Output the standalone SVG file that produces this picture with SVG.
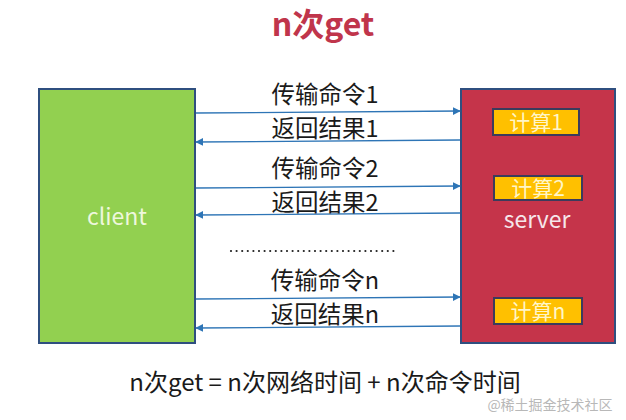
<svg xmlns="http://www.w3.org/2000/svg" width="626" height="420" viewBox="0 0 626 420">
<style>
  .cjk { font-family: "Noto Sans CJK SC", "Liberation Sans", sans-serif; }
  .lbl { font-size: 23.5px; fill: #1a1a1a; text-anchor: middle; }
  .node { stroke: #2f4f7f; stroke-width: 2; }
  .calc { fill: #ffc000; stroke: #3b3b5c; stroke-width: 2; }
  .calct { font-size: 21px; fill: #fff6c8; text-anchor: middle; }
  .arrow { stroke: #2e75b6; stroke-width: 1.3; fill: none; }
</style>
<defs>
  <marker id="ah" viewBox="0 0 10 10" refX="9" refY="5" markerWidth="8" markerHeight="8" orient="auto" markerUnits="userSpaceOnUse">
    <path d="M0,0 L10,5 L0,10 z" fill="#2e75b6"/>
  </marker>
</defs>
<rect width="626" height="420" fill="#ffffff"/>
<text x="323" y="36" class="cjk" font-size="32" font-weight="bold" fill="#c0354b" text-anchor="middle">n次get</text>

<g id="client">
  <rect x="39" y="89" width="156" height="254" fill="#92d050" class="node"/>
  <text x="117" y="225" class="cjk" font-size="23" fill="#eef7dc" text-anchor="middle">client</text>
</g>

<g id="server">
  <rect x="461" y="89" width="154" height="254" fill="#c5344a" class="node"/>
  <text x="537" y="228" class="cjk" font-size="23" fill="#f6e6ea" text-anchor="middle">server</text>
</g>
<g id="calc1">
  <rect x="493" y="109" width="86" height="26" class="calc"/>
  <text x="536" y="130" class="cjk calct">计算1</text>
</g>
<g id="calc2">
  <rect x="494" y="176" width="88" height="24" class="calc"/>
  <text x="538" y="196" class="cjk calct">计算2</text>
</g>
<g id="calcn">
  <rect x="494" y="298" width="88" height="26" class="calc"/>
  <text x="538" y="319" class="cjk calct">计算n</text>
</g>

<g id="connectors">
  <line x1="196" y1="113" x2="460" y2="111" class="arrow" marker-end="url(#ah)"/>
  <line x1="460" y1="140" x2="196" y2="142" class="arrow" marker-end="url(#ah)"/>
  <line x1="196" y1="188" x2="460" y2="186" class="arrow" marker-end="url(#ah)"/>
  <line x1="460" y1="213" x2="196" y2="215" class="arrow" marker-end="url(#ah)"/>
  <line x1="196" y1="299" x2="460" y2="297" class="arrow" marker-end="url(#ah)"/>
  <line x1="460" y1="326" x2="196" y2="328" class="arrow" marker-end="url(#ah)"/>
  <line x1="231" y1="251" x2="398" y2="251" stroke="#222" stroke-width="2.2" stroke-linecap="round" stroke-dasharray="0 5.6"/>
</g>

<text x="325" y="103" class="cjk lbl">传输命令1</text>
<text x="325" y="137" class="cjk lbl">返回结果1</text>
<text x="325" y="177" class="cjk lbl">传输命令2</text>
<text x="325" y="211" class="cjk lbl">返回结果2</text>
<text x="325" y="289" class="cjk lbl">传输命令n</text>
<text x="325" y="323" class="cjk lbl">返回结果n</text>

<text x="325" y="391" class="cjk" font-size="24" fill="#1a1a1a" text-anchor="middle">n次get = n次网络时间 + n次命令时间</text>
<text x="550" y="410" class="cjk" font-size="14" fill="#b8b8b8" text-anchor="middle">@稀土掘金技术社区</text>
</svg>
